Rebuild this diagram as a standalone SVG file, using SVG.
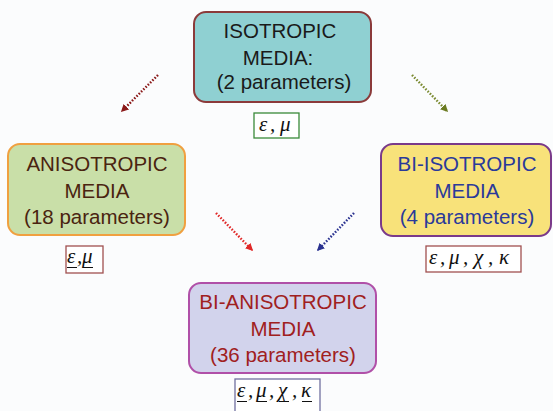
<svg xmlns="http://www.w3.org/2000/svg" width="553" height="411" viewBox="0 0 553 411">
<defs>
<style>
.t{font-family:"Liberation Sans",Arial,sans-serif;font-size:20.5px;text-anchor:middle}
.g{font-family:"Liberation Serif","Times New Roman",serif;font-style:italic;font-size:21px;fill:#111}
.lb{fill:#fff;stroke-width:1.3}
.ar{fill:none;stroke-width:2.4;stroke-dasharray:1.6 1.6}
.u{stroke:#111;stroke-width:1.1}
</style>
<marker id="mR" viewBox="0 0 10 10" refX="8" refY="5" markerWidth="3.2" markerHeight="3.2" orient="auto"><path d="M0,0L10,5L0,10z" fill="#8b1a1a"/></marker>
<marker id="mG" viewBox="0 0 10 10" refX="8" refY="5" markerWidth="3.2" markerHeight="3.2" orient="auto"><path d="M0,0L10,5L0,10z" fill="#6a7a20"/></marker>
<marker id="mRed" viewBox="0 0 10 10" refX="8" refY="5" markerWidth="3.2" markerHeight="3.2" orient="auto"><path d="M0,0L10,5L0,10z" fill="#e02828"/></marker>
<marker id="mB" viewBox="0 0 10 10" refX="8" refY="5" markerWidth="3.2" markerHeight="3.2" orient="auto"><path d="M0,0L10,5L0,10z" fill="#2a3290"/></marker>
</defs>
<rect width="553" height="411" fill="#fbfcfd"/>
<g id="connectors">
<line class="ar" x1="158" y1="75" x2="122" y2="111" stroke="#8b1a1a" marker-end="url(#mR)"/>
<line class="ar" x1="412" y1="75" x2="447" y2="111" stroke="#7a8a30" marker-end="url(#mG)"/>
<line class="ar" x1="216" y1="213" x2="252" y2="250" stroke="#e02828" marker-end="url(#mRed)"/>
<line class="ar" x1="354" y1="213" x2="318" y2="250" stroke="#2a3290" marker-end="url(#mB)"/>
</g>
<g id="isotropic">
<rect x="194" y="12" width="177" height="90" rx="12" fill="#8fd0d2" stroke="#8b3a3a" stroke-width="2"/>
<text class="t" fill="#1a1a1a" x="280" y="38">ISOTROPIC</text>
<text class="t" fill="#1a1a1a" x="278" y="65">MEDIA:</text>
<text class="t" fill="#1a1a1a" x="284" y="89">(2 parameters)</text>
<rect class="lb" x="254" y="113" width="45" height="25" stroke="#3a8a3a"/>
<text class="g" y="131"><tspan x="259">ε</tspan><tspan x="270">,</tspan><tspan x="280">μ</tspan></text>
</g>
<g id="anisotropic">
<rect x="8" y="144" width="177" height="91" rx="12" fill="#c9dfa8" stroke="#f0a040" stroke-width="2"/>
<text class="t" fill="#4a2410" x="97" y="171">ANISOTROPIC</text>
<text class="t" fill="#4a2410" x="97" y="198">MEDIA</text>
<text class="t" fill="#4a2410" x="97" y="224">(18 parameters)</text>
<rect class="lb" x="66" y="246" width="37" height="27" stroke="#a05050"/>
<text class="g" y="263"><tspan x="67">ε</tspan><tspan x="77">,</tspan><tspan x="82">μ</tspan></text>
<path class="u" d="M67,267.5h10M83,267.5h10"/>
</g>
<g id="bi-isotropic">
<rect x="381" y="144" width="170" height="92" rx="12" fill="#f8e27a" stroke="#7a3a8a" stroke-width="2"/>
<text class="t" fill="#2a3a9a" x="467" y="171">BI-ISOTROPIC</text>
<text class="t" fill="#2a3a9a" x="467" y="198">MEDIA</text>
<text class="t" fill="#2a3a9a" x="467" y="224">(4 parameters)</text>
<rect class="lb" x="426" y="246" width="95" height="26" stroke="#a05050"/>
<text class="g" y="264"><tspan x="429">ε</tspan><tspan x="440">,</tspan><tspan x="449">μ</tspan><tspan x="463">,</tspan><tspan x="474">χ</tspan><tspan x="488">,</tspan><tspan x="499">κ</tspan></text>
</g>
<g id="bi-anisotropic">
<rect x="189" y="283" width="187" height="90" rx="12" fill="#d2d3ec" stroke="#b050a8" stroke-width="2"/>
<text class="t" fill="#a02020" x="283" y="309">BI-ANISOTROPIC</text>
<text class="t" fill="#a02020" x="283" y="336">MEDIA</text>
<text class="t" fill="#a02020" x="283" y="362">(36 parameters)</text>
<rect class="lb" x="235" y="379" width="85" height="34" stroke="#7070a0"/>
<text class="g" y="397"><tspan x="237">ε</tspan><tspan x="248">,</tspan><tspan x="256">μ</tspan><tspan x="269">,</tspan><tspan x="278">χ</tspan><tspan x="292">,</tspan><tspan x="301">κ</tspan></text>
<path class="u" d="M237,401.5h10M257,401.5h10M279,401.5h10M302,401.5h10"/>
</g>
</svg>
